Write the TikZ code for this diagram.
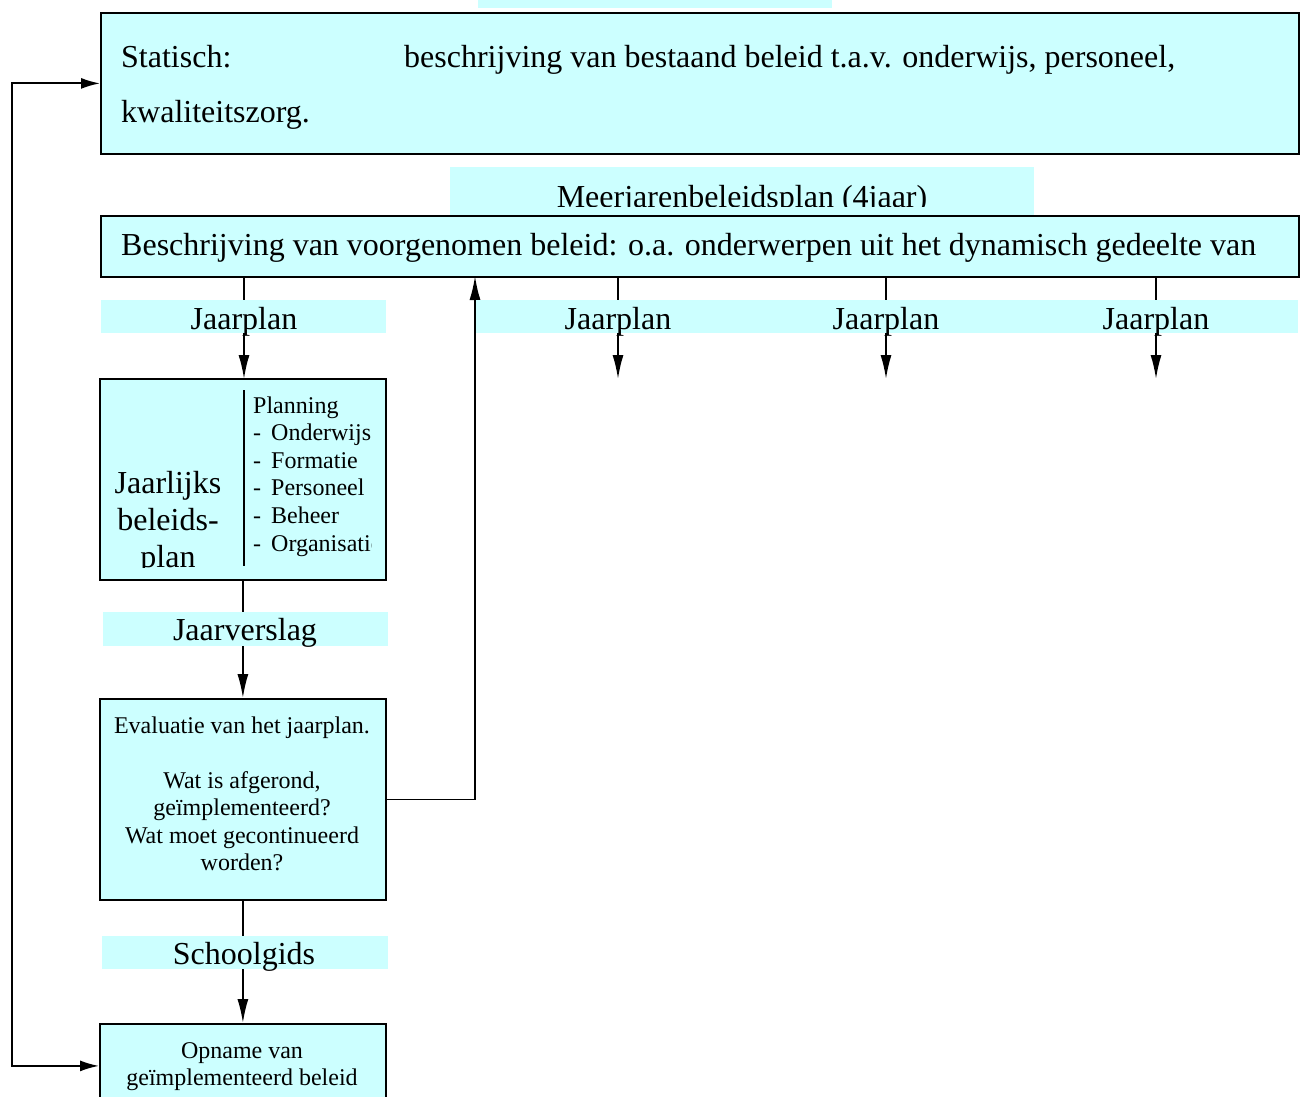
\documentclass[tikz,border=0pt]{standalone}
\usepackage{fontspec}
\setmainfont{Liberation Serif}
\usetikzlibrary{arrows.meta}
\definecolor{lcyan}{HTML}{CCFFFF}

\begin{document}
\begin{tikzpicture}[x=1pt,y=-1pt,>={Latex[length=24pt,width=11pt]},
    box/.style={draw,fill=lcyan,line width=1.8pt,inner sep=0pt,anchor=north west},
    bar/.style={fill=lcyan,inner sep=0pt,anchor=north west},
    big/.style={inner sep=0pt,font=\fontsize{32}{37}\selectfont},
    small/.style={inner sep=0pt,font=\fontsize{24}{27.5}\selectfont},
    arr/.style={line width=1.8pt}]
    \useasboundingbox (0,0) rectangle (1306,1097);
    \node[bar,minimum width=354pt,minimum height=28pt] (toptab) at (478,-20) {};
    \node[box,minimum width=1198pt,minimum height=141pt] (statisch) at (100,12) {};
    \node[big,anchor=base west] (statlbl) at (121,68) {Statisch:};
    \node[big,anchor=base west] (stattxt) at (404,68) {beschrijving van bestaand beleid t.a.v. onderwijs, personeel,};
    \node[big,anchor=base west] (stattxt2) at (121,123) {kwaliteitszorg.};
    \node[bar,minimum width=584pt,minimum height=48pt] (meertab) at (450,167) {};
    \begin{scope}
      \clip (meertab.north west) rectangle (1034,206);
      \node[big,anchor=base] (meerlbl) at (742,207) {Meerjarenbeleidsplan (4jaar)};
    \end{scope}
    \node[box,minimum width=1198pt,minimum height=61pt] (beleid) at (100,215) {};
    \node[big,anchor=base west] (beleidtxt) at (121,255) {Beschrijving van voorgenomen beleid: o.a. onderwerpen uit het dynamisch gedeelte van};

    \node[box,minimum width=286pt,minimum height=201pt] (jbp) at (99,378) {};
    \draw[arr] (244,390) -- (244,566);
    \begin{scope}
      \clip (107,390) rectangle (240,567);
      \foreach \t/\y in {Jaarlijks/493,beleids-/530,plan/567}
        \node[big,anchor=base] (jbp-\t) at (168,\y) {\t};
    \end{scope}
    \begin{scope}
      \clip (248,390) rectangle (371.5,570);
      \foreach \t [count=\i] in {Planning,-\hspace{10pt}Onderwijs,-\hspace{10pt}Formatie,-\hspace{10pt}Personeel,-\hspace{10pt}Beheer,-\hspace{10pt}Organisatie}
        \node[small,anchor=base west] (plan\i) at (253,{385.4+27.6*\i}) {\t};
    \end{scope}

    \node[box,minimum width=286pt,minimum height=201pt] (eval) at (99,698) {};
    \node[small,anchor=base] (eval1) at (242,733) {Evaluatie van het jaarplan.};
    \node[small,anchor=base] (eval2) at (242,788) {Wat is afgerond,};
    \node[small,anchor=base] (eval3) at (242,815) {geïmplementeerd?};
    \node[small,anchor=base] (eval4) at (242,843) {Wat moet gecontinueerd};
    \node[small,anchor=base] (eval5) at (242,870) {worden?};

    \node[box,minimum width=286pt,minimum height=84pt] (opname) at (99,1023) {};
    \node[small,anchor=base] (opname1) at (242,1058) {Opname van};
    \node[small,anchor=base] (opname2) at (242,1085) {geïmplementeerd beleid};

    \foreach \x [count=\i] in {244,618,886,1156}
      \coordinate (jp\i) at (\x,379);
    \coordinate (ret) at (475,276);
    \foreach \i in {1,...,4}
      \draw[arr,->] (beleid.south -| jp\i) -- (jp\i);
    \draw[arr,->] (jbp.south) -- (eval.north);
    \draw[arr,->] (eval.east) -| (ret);
    \draw[arr,->] (eval.south) -- (opname.north);
    \draw[arr,{Latex[length=19pt,width=11pt]}-{Latex[length=19pt,width=11pt]}] (statisch.west) -- ++(-88,0) |- (opname.west);

    \node[bar,minimum width=285pt,minimum height=33pt] (jpbar1) at (101,300) {};
    \node[bar,minimum width=822pt,minimum height=33pt] (jpbar2) at (476,300) {};
    \foreach \i in {1,...,4}
      \path (jp\i) ++(0,-50) node[big,anchor=base] (jplbl\i) {Jaarplan};
    \node[bar,minimum width=285pt,minimum height=34pt] (versbar) at (103,612) {};
    \node[big,anchor=base] (verslbl) at (245,640) {Jaarverslag};
    \node[bar,minimum width=286pt,minimum height=33pt] (gidsbar) at (102,936) {};
    \node[big,anchor=base] (gidslbl) at (244,964) {Schoolgids};
\end{tikzpicture}
\end{document}
